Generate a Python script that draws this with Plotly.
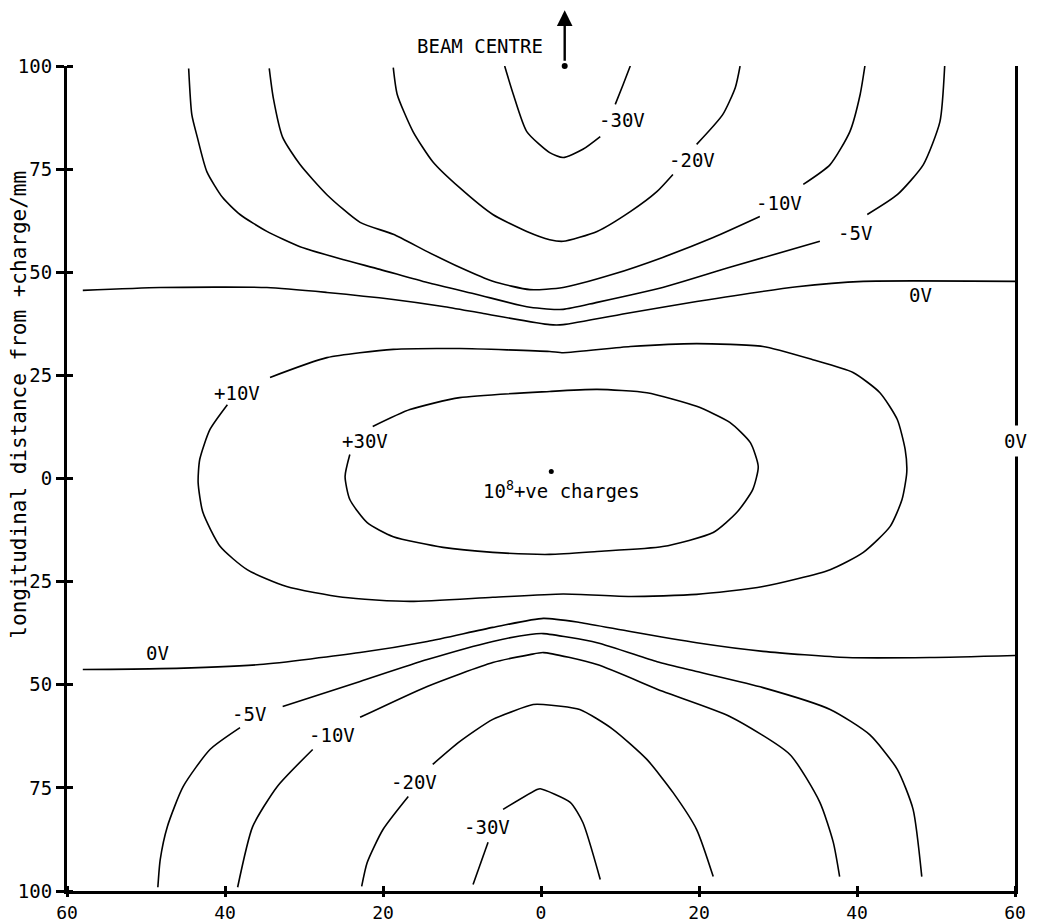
import plotly.graph_objects as go

# ---- axes ----
x_ticks = [-60, -40, -20, 0, 20, 40, 60]
x_ticklabels = ["60", "40", "20", "0", "20", "40", "60"]
y_ticks = [-100, -75, -50, -25, 0, 25, 50, 75, 100]
y_ticklabels = ["100", "75", "50", "25", "0", "25", "50", "75", "100"]

# ---- equipotential lines (mm), None = gap for a label ----
m30_top_x = [-4.6, -3.5, -1.8, 1.1, 2.8, 5.3, 7.5, None, 9.4, 10.4, 11.3]
m30_top_y = [100, 93.1, 84.1, 79.0, 77.8, 79.8, 82.9, None, 90.7, 95.5, 100]

m20_top_x = [-18.7, -18.2, -16.2, -13.7, -10.3, -6.1, -1.8, 1.1, 2.8, 7.1, 11.3, 14.7, 16.7, None, 19.7, 23.0, 24.6, 25.2]
m20_top_y = [99.6, 93.1, 84.1, 76.8, 70.5, 64.0, 59.9, 57.9, 57.5, 59.9, 64.7, 69.6, 73.7, None, 81.0, 88.2, 94.8, 100]

m10_top_x = [-34.4, -33.9, -32.7, -30.5, -27.1, -22.9, -18.7, -14.4, -10.3, -6.1, -1.4, 2.8, 9.1, 15.4, 21.8, 27.7, None, 33.2, 36.6, 39.1, 40.4, 41.0]
m10_top_y = [99.4, 92.4, 82.7, 76.1, 68.8, 62.1, 59.2, 55.0, 51.2, 47.8, 45.8, 46.3, 49.5, 53.6, 58.4, 63.5, None, 71.3, 76.1, 84.1, 93.1, 100]

m5_top_x = [-44.6, -44.2, -43.5, -42.3, -40.3, -38.1, -34.7, -30.5, -25.1, -20.4, -14.4, -8.1, -1.4, 2.8, 7.1, 15.4, 23.9, 35.3, None, 41.3, 45.1, 48.4, 50.5, 51.1]
m5_top_y = [99.4, 88.2, 82.7, 74.4, 68.1, 64.0, 59.9, 56.2, 53.1, 50.7, 47.5, 44.6, 41.5, 41.0, 42.7, 46.3, 51.2, 57.5, None, 64.0, 68.8, 76.1, 86.5, 100]

z_top_x = [-58.0, -48.2, -34.7, -27.1, -18.7, -12.4, -7.3, 1.1, 2.8, 11.3, 19.7, 32.4, 40.8, 60]
z_top_y = [45.6, 46.3, 46.3, 45.1, 43.4, 41.7, 40.0, 37.3, 37.3, 40.2, 42.9, 46.5, 47.8, 47.8]

p10_x = [-34.3, -27.1, -18.7, -10.3, 1.1, 2.8, 11.3, 19.7, 28.1, 34.4, 39.5, 42.9, 45.1, 46.1, 46.3, 45.7, 44.2, 40.8, 36.6, 28.1, 19.7, 11.3, 2.8, -6.1, -16.6, -25.1, -32.2, -37.2, -40.6, -42.8, -43.4, -43.2, -41.9, -39.7]
p10_y = [24.5, 29.3, 31.3, 31.5, 30.8, 30.5, 32.0, 32.7, 32.0, 28.8, 25.7, 20.8, 14.3, 7.0, 1.5, -5.1, -11.6, -17.9, -22.1, -26.2, -28.1, -28.6, -28.0, -28.8, -29.8, -28.8, -26.2, -22.1, -16.5, -8.2, -1.0, 4.6, 11.9, 17.9]

p30_x = [-21.3, -16.6, -10.3, 1.1, 7.1, 13.4, 19.7, 23.9, 26.5, 27.5, 26.8, 24.8, 21.8, 15.4, 7.1, 1.1, -6.1, -12.4, -18.7, -22.0, -24.2, -24.8, -24.2]
p30_y = [12.6, 16.7, 19.6, 21.1, 21.6, 20.8, 17.5, 13.6, 8.7, 2.9, -2.7, -8.2, -13.1, -16.5, -17.7, -18.4, -17.9, -16.7, -14.1, -10.7, -5.1, 0.5, 5.8]

z_bot_x = [-58.0, -48.2, -35.6, -22.9, -14.4, -6.1, 0.3, 4.9, 11.3, 19.7, 28.1, 38.7, 49.2, 60]
z_bot_y = [-46.3, -46.1, -45.1, -42.2, -39.5, -36.1, -33.9, -34.9, -37.1, -39.8, -41.9, -43.4, -43.4, -42.9]

m5_bot_x = [-48.5, -48.2, -47.3, -45.3, -41.9, -38.1, None, -32.7, -22.9, -14.4, -6.1, -1.4, 0.3, 7.1, 14.7, 19.7, 28.1, 36.6, 41.6, 45.1, 47.1, 48.2]
m5_bot_y = [-99.1, -92.4, -84.4, -74.7, -65.7, -60.4, None, -55.3, -49.2, -43.9, -39.5, -37.8, -37.6, -39.8, -44.4, -46.8, -50.7, -56.0, -62.1, -70.5, -80.2, -96.5]

m10_bot_x = [-38.4, -36.5, -33.4, -28.9, None, -22.9, -14.4, -6.1, -1.4, 0.3, 7.1, 15.4, 23.9, 31.5, 35.3, 37.0, 37.8]
m10_bot_y = [-99.1, -84.4, -74.7, -65.7, None, -57.9, -50.4, -44.6, -42.7, -42.2, -45.1, -51.6, -57.7, -66.9, -78.5, -88.2, -96.5]

m20_bot_x = [-22.7, -22.0, -20.0, -16.8, None, -13.7, -10.3, -6.1, -1.0, 0.3, 4.9, 9.1, 13.4, 16.7, 19.7, 21.8]
m20_bot_y = [-98.9, -93.1, -85.1, -77.1, None, -69.3, -63.8, -58.4, -54.8, -54.8, -56.0, -60.8, -68.1, -76.1, -85.1, -96.5]

m30_bot_x = [-8.6, -6.7, None, -4.8, -0.5, -0.1, 3.7, 5.3, 7.5]
m30_bot_y = [-98.4, -88.2, None, -80.2, -75.4, -75.2, -78.5, -83.4, -97.2]

# ---- contour labels ----
label_text = ["-30V", "-20V", "-10V", "-5V", "0V", "+10V", "+30V", "0V", "-5V", "-10V", "-20V", "-30V"]
label_x = [10.3, 19.1, 30.1, 39.7, 48.0, -38.5, -22.3, -48.6, -37.0, -26.5, -16.1, -6.8]
label_y = [86.8, 77.3, 66.9, 59.6, 44.6, 20.8, 9.0, -42.4, -57.2, -62.3, -73.5, -84.4]

charge_x = [1.3]
charge_y = [1.7]
beam_x = [3.0]
beam_tail_y = [100.0]

FONT = "DejaVu Sans Mono"
FS = 19

fig = go.Figure()
lines = [
    (m30_top_x, m30_top_y), (m20_top_x, m20_top_y), (m10_top_x, m10_top_y),
    (m5_top_x, m5_top_y), (z_top_x, z_top_y), (p10_x, p10_y), (p30_x, p30_y),
    (z_bot_x, z_bot_y), (m5_bot_x, m5_bot_y), (m10_bot_x, m10_bot_y),
    (m20_bot_x, m20_bot_y), (m30_bot_x, m30_bot_y),
]
for lx, ly in lines:
    fig.add_trace(go.Scatter(x=lx, y=ly, mode="lines", connectgaps=False,
                             line=dict(color="black", width=1.6, shape="spline", smoothing=0.6),
                             hoverinfo="skip", showlegend=False))

# charge dot
fig.add_trace(go.Scatter(x=charge_x, y=charge_y, mode="markers",
                         marker=dict(color="black", size=5), showlegend=False, hoverinfo="skip"))
# beam centre arrow tail dot
fig.add_trace(go.Scatter(x=beam_x, y=beam_tail_y, mode="markers", cliponaxis=False,
                         marker=dict(color="black", size=6), showlegend=False, hoverinfo="skip"))

for t, x, y in zip(label_text, label_x, label_y):
    fig.add_annotation(x=x, y=y, text=t, showarrow=False,
                       font=dict(family=FONT, size=FS, color="black"))

# right boundary label
fig.add_annotation(x=60, y=9.2, text="0V", showarrow=False, bgcolor="white",
                   font=dict(family=FONT, size=FS, color="black"), borderpad=4)

fig.add_annotation(x=-7.6, y=-2.9, xanchor="left", text="10<sup>8</sup>+ve charges",
                   showarrow=False, font=dict(family=FONT, size=FS, color="black"))

# beam centre label and arrow (above the plotting area -> paper y)
fig.add_annotation(x=-7.7, xref="x", y=1.040, yref="paper", text="BEAM CENTRE", showarrow=False,
                   font=dict(family=FONT, size=FS, color="black"))
fig.add_annotation(x=beam_x[0], xref="x", y=1.0675, yref="paper", ax=0, ay=52,
                   axref="pixel", ayref="pixel", text="",
                   showarrow=True, arrowhead=2, arrowsize=1.3, arrowwidth=2.4, arrowcolor="black")

fig.add_annotation(x=0, xref="paper", xanchor="center", xshift=-48, y=17.9, yref="y",
                   text="longitudinal distance from +charge/mm",
                   textangle=-90, showarrow=False, font=dict(family=FONT, size=21, color="black"))

fig.update_layout(
    width=1034, height=914,
    margin=dict(l=59, r=27, t=58, b=31),
    paper_bgcolor="white", plot_bgcolor="white",
    showlegend=False, hovermode=False,
    font=dict(family=FONT, size=FS, color="black"),
    xaxis=dict(range=[-60, 60], tickvals=x_ticks, ticktext=x_ticklabels,
               showline=True, linecolor="black", linewidth=3, mirror=False,
               ticks="outside", ticklen=3, tickwidth=3, tickcolor="black",
               minor=dict(tickvals=[v + 0.001 for v in x_ticks], ticks="inside",
                          ticklen=5, tickwidth=3, tickcolor="black", showgrid=False),
               showgrid=False, zeroline=False, automargin=False,
               tickfont=dict(family=FONT, size=18)),
    yaxis=dict(range=[-100, 100], tickvals=y_ticks, ticktext=y_ticklabels,
               showline=True, linecolor="black", linewidth=3, mirror=True,
               ticks="outside", ticklen=8, tickwidth=2.5, tickcolor="black",
               minor=dict(tickvals=[v + 0.001 for v in y_ticks], ticks="inside",
                          ticklen=6, tickwidth=2.5, tickcolor="black", showgrid=False),
               ticklabelstandoff=0,
               showgrid=False, zeroline=False, automargin=False,
               tickfont=dict(family=FONT, size=FS)),
)

fig.write_html("out.html")
